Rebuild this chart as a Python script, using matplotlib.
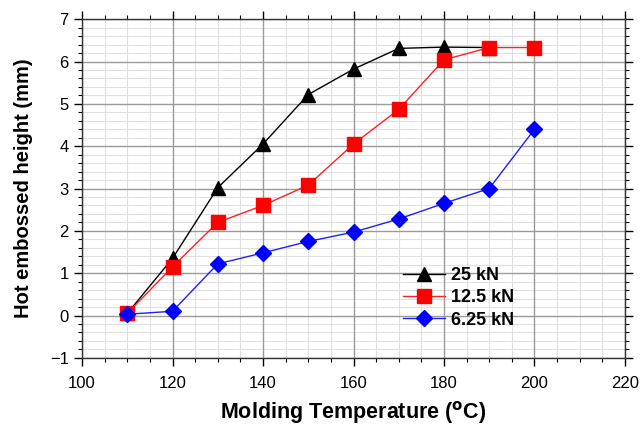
import matplotlib.pyplot as plt
import numpy as np
from matplotlib.ticker import MultipleLocator

plt.rcParams['font.family'] = ['Liberation Sans', 'DejaVu Sans']

# Data
temperature = [110, 120, 130, 140, 150, 160, 170, 180, 190, 200]
height_25kN = [0.05, 1.35, 3.02, 4.05, 5.22, 5.82, 6.31, 6.34, 6.33]
height_12_5kN = [0.05, 1.15, 2.2, 2.6, 3.08, 4.05, 4.87, 6.04, 6.33, 6.33]
height_6_25kN = [0.03, 0.1, 1.22, 1.48, 1.75, 1.97, 2.28, 2.65, 3.0, 4.4]
series_labels = ['25 kN', '12.5 kN', '6.25 kN']

fig = plt.figure(figsize=(6.41, 4.26), dpi=100)
ax = fig.add_axes([0.128, 0.160, 0.847, 0.795])

ax.plot(temperature[:len(height_25kN)], height_25kN, color='black', linewidth=1,
        marker='^', markersize=10, label=series_labels[0], zorder=3)
ax.plot(temperature, height_12_5kN, color='#ff2020', linewidth=1,
        marker='s', markersize=10, markerfacecolor='red', markeredgecolor='red',
        label=series_labels[1], zorder=4)
ax.plot(temperature, height_6_25kN, color='#2020ff', linewidth=1,
        marker='D', markersize=8, markerfacecolor='blue', markeredgecolor='blue',
        label=series_labels[2], zorder=5)

# Axes ranges and ticks
ax.set_xlim(100, 220)
ax.set_ylim(-1, 7)
ax.xaxis.set_major_locator(MultipleLocator(20))
ax.xaxis.set_minor_locator(MultipleLocator(5))
ax.yaxis.set_major_locator(MultipleLocator(1))
ax.yaxis.set_minor_locator(MultipleLocator(0.2))

# Grid: light minor lines, darker major lines drawn on top of them
ax.grid(which='minor', color='#e0e0e0', linewidth=0.8)
for xv in ax.get_xticks():
    ax.axvline(xv, color='#9a9a9a', linewidth=1.0, zorder=0.8)
for yv in ax.get_yticks():
    ax.axhline(yv, color='#9a9a9a', linewidth=1.0, zorder=0.8)
ax.set_axisbelow(True)

ax.tick_params(which='both', direction='out', top=True, right=True, labelsize=12)
ax.tick_params(which='major', length=6, width=1)
ax.tick_params(axis='x', which='major', pad=7)
ax.tick_params(which='minor', length=3, width=0.8)
for s in ax.spines.values():
    s.set_linewidth(1)
    s.set_color('#333333')

ax.set_xlabel(r'Molding Temperature ($^{\mathbf{o}}$C)', fontsize=15.5, fontweight='bold', labelpad=6)
ax.set_ylabel('Hot embossed height (mm)', fontsize=14.5, fontweight='bold', labelpad=12)

ax.legend(loc='upper left', bbox_to_anchor=(0.578, 0.29), frameon=False,
          prop={'weight': 'bold', 'size': 13}, handlelength=2.3,
          handletextpad=0.35, labelspacing=0.3, borderaxespad=0)

plt.savefig('out.png', dpi=100)
